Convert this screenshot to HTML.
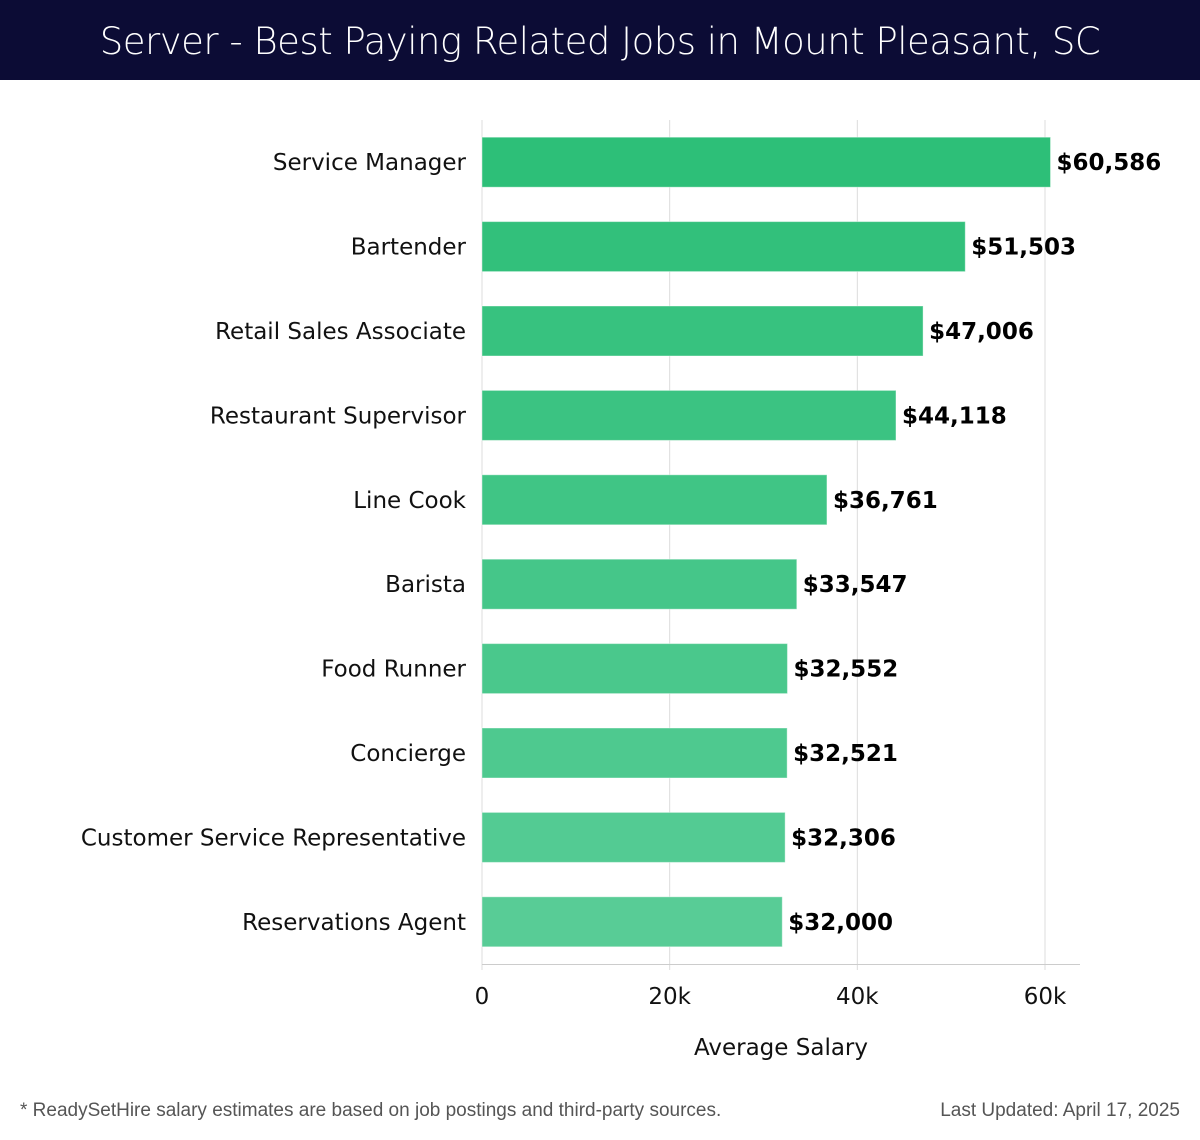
<!DOCTYPE html>
<html><head><meta charset="utf-8"><style>
body{margin:0;width:1200px;height:1140px;background:#fff;font-family:"Liberation Sans","DejaVu Sans",sans-serif;overflow:hidden;position:relative}
#hdr{position:absolute;left:0;top:0;width:1200px;height:80px;background:#0c0c35;color:#fff;font-size:37px;text-align:center;line-height:84px;font-family:"DejaVu Sans","Liberation Sans",sans-serif;font-weight:300;letter-spacing:-0.5px}
.foot{position:absolute;top:1100px;font-size:19px;color:#555}
</style></head><body>
<div id="hdr">Server - Best Paying Related Jobs in Mount Pleasant, SC</div>
<svg id="chart" width="1200" height="1090" style="position:absolute;left:0;top:0" font-family="DejaVu Sans, Liberation Sans, sans-serif"></svg>
<div class="foot" style="left:20px">* ReadySetHire salary estimates are based on job postings and third-party sources.</div>
<div class="foot" style="right:20px">Last Updated: April 17, 2025</div>
<script>
const categories=["Service Manager","Bartender","Retail Sales Associate","Restaurant Supervisor","Line Cook","Barista","Food Runner","Concierge","Customer Service Representative","Reservations Agent"];
const values=[60586,51503,47006,44118,36761,33547,32552,32521,32306,32000];
const valueLabels=["$60,586","$51,503","$47,006","$44,118","$36,761","$33,547","$32,552","$32,521","$32,306","$32,000"];
const ticks=[0,20000,40000,60000];
const tickLabels=["0","20k","40k","60k"];
const svg=document.getElementById('chart');
const NS='http://www.w3.org/2000/svg';
const x0=482,pxPer=(1045-482)/60000;
const xs=v=>x0+v*pxPer;
const rowTop=120,rowH=84.4;
const yc=i=>rowTop+rowH*(i+0.5);
function mk(t,a){const e=document.createElementNS(NS,t);for(const k in a)e.setAttribute(k,a[k]);svg.appendChild(e);return e;}
ticks.forEach((t,i)=>{
 const g=mk('line',{x1:xs(t),x2:xs(t),y1:120,y2:970,stroke:'#dcdcdc','stroke-width':1});
 
 
 const l=mk('text',{x:xs(t),y:1004,'text-anchor':'middle','font-size':23,fill:'#111'});
 l.textContent=tickLabels[i];
 
 
});
const ax=mk('line',{x1:482,x2:1080,y1:964.5,y2:964.5,stroke:'#ccc','stroke-width':1});


const c0=[45,191,120],c1=[88,204,150];
categories.forEach((c,i)=>{
 const f=i/(categories.length-1);
 const col=`rgb(${c0.map((v,k)=>Math.round(v+(c1[k]-v)*f)).join(',')})`;
 const b=mk('rect',{x:x0,y:yc(i)-25,width:xs(values[i])-x0,height:50,fill:col,stroke:'rgba(255,255,255,0.4)','stroke-width':1});
 
 
 const l=mk('text',{x:466,y:yc(i)+8,'text-anchor':'end','font-size':23,fill:'#111'});
 l.textContent=c;
 
 
 const v=mk('text',{x:xs(values[i])+6,y:yc(i)+8,'font-size':23,'font-weight':'bold',fill:'#000'});
 v.textContent=valueLabels[i];
 
 
});
const at=mk('text',{x:781,y:1055,'text-anchor':'middle','font-size':23,fill:'#111'});
at.textContent='Average Salary';


</script>
</body></html>
